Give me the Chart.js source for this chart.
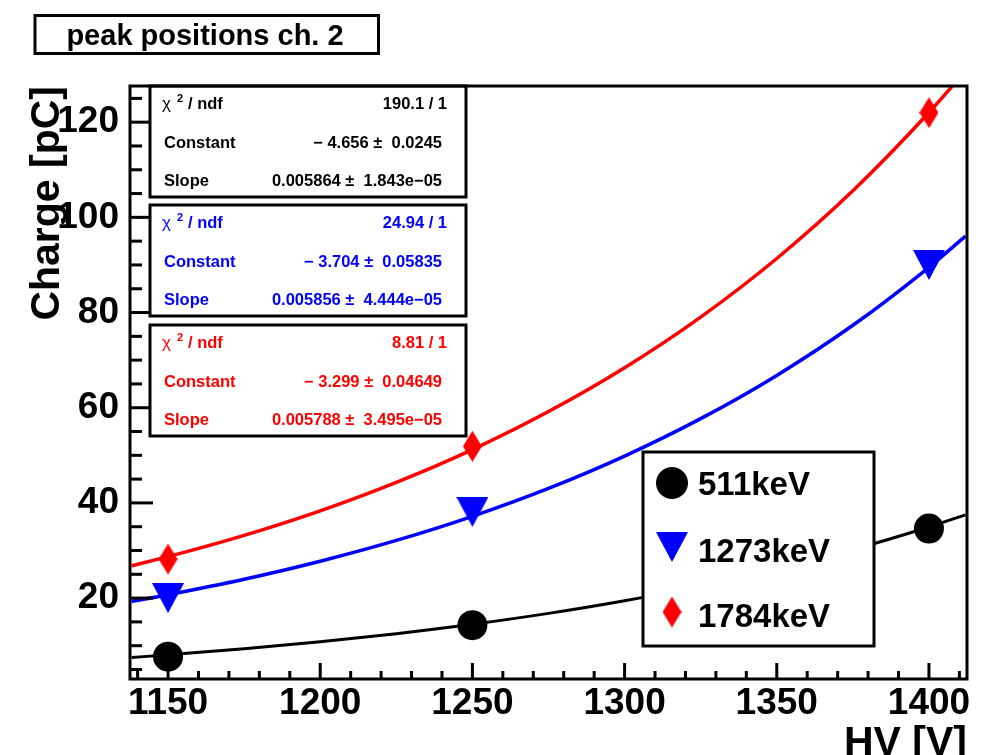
<!DOCTYPE html>
<html>
<head>
<meta charset="utf-8">
<script src="https://cdn.jsdelivr.net/npm/chart.js@4.4.1/dist/chart.umd.min.js"></script>
<style>
    html, body { margin: 0; padding: 0; background: #fff; }
    canvas { display: block; }
</style>
</head>
<body>
<canvas id="chart" width="982" height="755"></canvas>
<script>
// measured peak positions (HV in V, charge in pC)
const hvPoints = [1150, 1250, 1400]
const peak511 = [7.7, 14.3, 34.6]
const peak1273 = [20.0, 38.1, 90.0]
const peak1784 = [28.2, 51.9, 122.0]

// fit curves
const fitHV = [1138, 1150, 1175, 1200, 1225, 1250, 1275, 1300, 1325, 1350, 1375, 1400, 1412]
const fit511 = [7.52, 8.07, 9.34, 10.81, 12.52, 14.50, 16.79, 19.44, 22.51, 26.06, 30.18, 34.94, 37.49]
const fit1273 = [19.30, 20.71, 23.97, 27.75, 32.12, 37.19, 43.05, 49.84, 57.70, 66.79, 77.32, 89.51, 96.04]
const fit1784 = [26.78, 28.71, 33.18, 38.34, 44.32, 51.21, 59.19, 68.40, 79.05, 91.36, 105.58, 122.02, 130.80]

const xTicks = [1150, 1200, 1250, 1300, 1350, 1400]
const yTicks = [20, 40, 60, 80, 100, 120]
const legendLabels = ["511keV", "1273keV", "1784keV"]
const seriesColors = ["#000000", "#0000ff", "#ff0000"]

// fit result boxes
const statChi2 = ["190.1 / 1", "24.94 / 1", "8.81 / 1"]
const statConstant = ["\u2212 4.656 \u00b1  0.0245", "\u2212 3.704 \u00b1  0.05835", "\u2212 3.299 \u00b1  0.04649"]
const statSlope = ["0.005864 \u00b1  1.843e\u221205", "0.005856 \u00b1  4.444e\u221205", "0.005788 \u00b1  3.495e\u221205"]

const FONT = "'Liberation Sans', Arial, Helvetica, sans-serif"

function toPoints(xs, ys) {
    return xs.map((x, i) => ({ x: x, y: ys[i] }))
}

function triangleDown(color, w, h) {
    const c = document.createElement("canvas")
    c.width = w
    c.height = h
    const g = c.getContext("2d")
    g.fillStyle = color
    g.beginPath()
    g.moveTo(0, 0)
    g.lineTo(w, 0)
    g.lineTo(w / 2, h)
    g.closePath()
    g.fill()
    return c
}

function diamond(color, w, h) {
    const c = document.createElement("canvas")
    c.width = w
    c.height = h
    const g = c.getContext("2d")
    g.fillStyle = color
    g.beginPath()
    g.moveTo(w / 2, 0)
    g.lineTo(w, h / 2)
    g.lineTo(w / 2, h)
    g.lineTo(0, h / 2)
    g.closePath()
    g.fill()
    return c
}

const markerStyles = ["circle", triangleDown(seriesColors[1], 32, 30), diamond(seriesColors[2], 19, 31)]

function line(ctx, x1, y1, x2, y2) {
    ctx.beginPath()
    ctx.moveTo(x1, y1)
    ctx.lineTo(x2, y2)
    ctx.stroke()
}

function box(ctx, l, t, r, b) {
    ctx.fillStyle = "#fff"
    ctx.fillRect(l, t, r - l, b - t)
    ctx.lineWidth = 3
    ctx.strokeStyle = "#000"
    ctx.strokeRect(l, t, r - l, b - t)
}

// ROOT style frame, inward ticks, stat boxes, legend and title pave
const rootPlot = {
    id: "rootPlot",
    afterDatasetsDraw(chart) {
        const ctx = chart.ctx
        const { left, right, top, bottom } = chart.chartArea
        const xs = chart.scales.x
        const ys = chart.scales.y
        ctx.save()
        ctx.strokeStyle = "#000"
        ctx.lineWidth = 3
        ctx.lineCap = "butt"

        for (let v = 1140; v <= 1410; v += 10) {
            const px = xs.getPixelForValue(v)
            line(ctx, px, bottom, px, bottom - (v % 50 === 0 ? 16 : 8))
        }
        for (let v = 5; v <= 125; v += 5) {
            const py = ys.getPixelForValue(v)
            line(ctx, left, py, left + (v % 20 === 0 ? 23 : 12), py)
        }

        // stat boxes
        const boxTops = [86, 205, 325]
        const rows = [23, 62, 100]
        boxTops.forEach((bt, i) => {
            box(ctx, 150, bt, 466, bt + 111)
            const col = seriesColors[i]
            ctx.fillStyle = col
            ctx.textBaseline = "alphabetic"
            ctx.textAlign = "left"
            ctx.font = "17px " + FONT
            ctx.fillText("\u03c7", 162, bt + rows[0])
            ctx.font = "bold 11px " + FONT
            ctx.fillText("2", 177, bt + rows[0] - 7)
            ctx.font = "bold 16.5px " + FONT
            ctx.fillText("/ ndf", 188, bt + rows[0])
            ctx.fillText("Constant", 164, bt + rows[1])
            ctx.fillText("Slope", 164, bt + rows[2])
            ctx.textAlign = "right"
            ctx.fillText(statChi2[i], 447, bt + rows[0])
            ctx.fillText(statConstant[i], 442, bt + rows[1])
            ctx.fillText(statSlope[i], 442, bt + rows[2])
        })

        // legend
        box(ctx, 643, 452, 874, 646)
        const legendY = [483, 547, 612]
        const legendBase = [495, 562, 627]
        legendLabels.forEach((label, i) => {
            const style = markerStyles[i]
            if (style === "circle") {
                ctx.fillStyle = seriesColors[i]
                ctx.beginPath()
                ctx.arc(672, legendY[i], 16, 0, Math.PI * 2)
                ctx.fill()
            } else {
                ctx.drawImage(style, 672 - style.width / 2, legendY[i] - style.height / 2)
            }
            ctx.fillStyle = "#000"
            ctx.textAlign = "left"
            ctx.font = "bold 33px " + FONT
            ctx.fillText(label, 698, legendBase[i])
        })

        // frame on top
        ctx.lineWidth = 3
        ctx.strokeStyle = "#000"
        ctx.strokeRect(left, top, right - left, bottom - top)

        // title pave
        box(ctx, 35, 15.5, 378.5, 53.5)
        ctx.fillStyle = "#000"
        ctx.textAlign = "center"
        ctx.font = "bold 29px " + FONT
        ctx.fillText("peak positions ch. 2", 205, 45)
        ctx.restore()
    }
}

const chart = new Chart(document.getElementById("chart"), {
    type: "line",
    data: {
        datasets: [
            {
                label: legendLabels[0],
                data: toPoints(hvPoints, peak511),
                showLine: false,
                pointStyle: markerStyles[0],
                pointRadius: 15,
                pointBackgroundColor: seriesColors[0],
                pointBorderWidth: 0
            },
            {
                label: legendLabels[1],
                data: toPoints(hvPoints, peak1273),
                showLine: false,
                pointStyle: markerStyles[1],
                pointRadius: 15,
                pointBorderWidth: 0
            },
            {
                label: legendLabels[2],
                data: toPoints(hvPoints, peak1784),
                showLine: false,
                pointStyle: markerStyles[2],
                pointRadius: 15,
                pointBorderWidth: 0
            },
            {
                label: "fit 511keV",
                data: toPoints(fitHV, fit511),
                borderColor: seriesColors[0],
                borderWidth: 3,
                pointRadius: 0,
                cubicInterpolationMode: "monotone"
            },
            {
                label: "fit 1273keV",
                data: toPoints(fitHV, fit1273),
                borderColor: seriesColors[1],
                borderWidth: 3.5,
                pointRadius: 0,
                cubicInterpolationMode: "monotone"
            },
            {
                label: "fit 1784keV",
                data: toPoints(fitHV, fit1784),
                borderColor: seriesColors[2],
                borderWidth: 3.5,
                pointRadius: 0,
                cubicInterpolationMode: "monotone"
            }
        ]
    },
    options: {
        responsive: false,
        animation: false,
        events: [],
        layout: { padding: { left: 0, top: 86, right: 15, bottom: 0 } },
        plugins: {
            legend: { display: false },
            tooltip: { enabled: false }
        },
        scales: {
            x: {
                type: "linear",
                min: 1137.5,
                max: 1412.5,
                afterBuildTicks: scale => { scale.ticks = xTicks.map(v => ({ value: v })) },
                afterFit: scale => {
                    scale.height = 76
                    scale.paddingLeft = 0
                    scale.paddingRight = 0
                },
                grid: { display: false, drawTicks: false },
                border: { display: false },
                ticks: {
                    color: "#000",
                    padding: 3,
                    maxRotation: 0,
                    autoSkip: false,
                    callback: v => String(v),
                    font: { family: FONT, size: 37, weight: "bold" }
                },
                title: {
                    display: true,
                    text: "HV [V]",
                    align: "end",
                    color: "#000",
                    padding: 0,
                    font: { family: FONT, size: 41, weight: "bold", lineHeight: 0.55 }
                }
            },
            y: {
                type: "linear",
                min: 3,
                max: 127.6,
                afterBuildTicks: scale => { scale.ticks = yTicks.map(v => ({ value: v })) },
                afterFit: scale => {
                    scale.width = 130
                    scale.paddingTop = 0
                    scale.paddingBottom = 0
                },
                grid: { display: false, drawTicks: false },
                border: { display: false },
                ticks: {
                    color: "#000",
                    padding: 11,
                    autoSkip: false,
                    callback: v => String(v),
                    font: { family: FONT, size: 37, weight: "bold" }
                },
                title: {
                    display: true,
                    text: "Charge [pC]",
                    align: "end",
                    color: "#000",
                    padding: { top: 23, bottom: 0 },
                    font: { family: FONT, size: 41, weight: "bold" }
                }
            }
        }
    },
    plugins: [rootPlot]
})
</script>
</body>
</html>
